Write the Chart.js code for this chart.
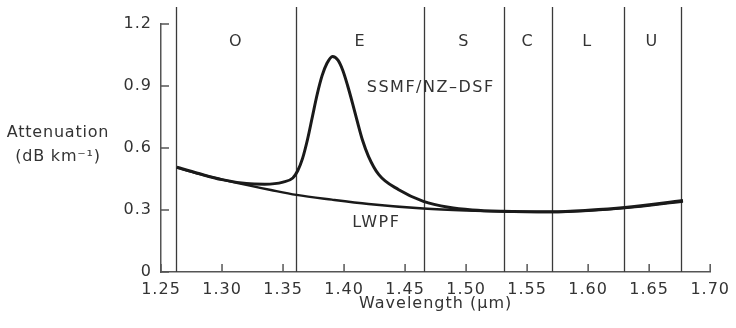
<!DOCTYPE html>
<html>
<head>
<meta charset="utf-8">
<script src="https://cdn.jsdelivr.net/npm/chart.js@4/dist/chart.umd.min.js"></script>
<style>
  html, body { margin: 0; padding: 0; background: #fff; }
  #wrap { width: 736px; height: 328px; position: relative; }
</style>
</head>
<body>
<div id="wrap"><canvas id="chart"></canvas></div>
<script>
// wavelength (um) / attenuation (dB/km)
const ssmfX = [1.263, 1.28, 1.30, 1.32, 1.335, 1.35, 1.358, 1.362, 1.366, 1.370, 1.374, 1.378, 1.382, 1.386, 1.3905, 1.395, 1.399, 1.403, 1.407, 1.411, 1.415, 1.420, 1.4285, 1.4448, 1.465, 1.4856, 1.505, 1.53, 1.57, 1.60, 1.63, 1.6777];
const ssmfY = [0.507, 0.478, 0.447, 0.428, 0.425, 0.435, 0.455, 0.49, 0.55, 0.64, 0.75, 0.86, 0.95, 1.01, 1.043, 1.025, 0.975, 0.90, 0.815, 0.725, 0.64, 0.56, 0.471, 0.398, 0.342, 0.313, 0.300, 0.294, 0.292, 0.299, 0.312, 0.346];
const lwpfX = [1.263, 1.28, 1.31, 1.34, 1.361, 1.39, 1.42, 1.465, 1.50, 1.53, 1.57, 1.60, 1.63, 1.6777];
const lwpfY = [0.505, 0.476, 0.434, 0.397, 0.373, 0.350, 0.329, 0.307, 0.297, 0.292, 0.290, 0.296, 0.309, 0.341];

const bandEdges = [1.262, 1.361, 1.4655, 1.531, 1.57, 1.629, 1.676];
const bandNames = ['O', 'E', 'S', 'C', 'L', 'U'];

const curveLabels = [
  { text: 'SSMF/NZ\u2013DSF', x: 1.471, y: 0.891 },
  { text: 'LWPF', x: 1.4265, y: 0.236 }
];

const FONT = '"DejaVu Sans", sans-serif';
const INK = '#333';

function toPoints(xs, ys) {
  return xs.map(function(x, i) { return { x: x, y: ys[i] }; });
}

const decor = {
  id: 'decor',
  beforeDraw: function(chart) {
    chart.ctx.letterSpacing = '1px';
  },
  beforeDatasetsDraw: function(chart) {
    const ctx = chart.ctx, xs = chart.scales.x, ys = chart.scales.y, area = chart.chartArea;
    ctx.save();
    ctx.strokeStyle = '#3a3a3a';
    ctx.lineWidth = 1.3;
    bandEdges.forEach(function(e) {
      const px = Math.round(xs.getPixelForValue(e)) + 0.5;
      ctx.beginPath();
      ctx.moveTo(px, area.top - 17);
      ctx.lineTo(px, area.bottom);
      ctx.stroke();
    });
    // inward tick marks
    ctx.strokeStyle = '#555';
    ctx.lineWidth = 1.5;
    ys.ticks.forEach(function(t) {
      const py = ys.getPixelForValue(t.value);
      ctx.beginPath();
      ctx.moveTo(area.left, py);
      ctx.lineTo(area.left + 8, py);
      ctx.stroke();
    });
    xs.ticks.forEach(function(t) {
      const px = xs.getPixelForValue(t.value);
      ctx.beginPath();
      ctx.moveTo(px, area.bottom);
      ctx.lineTo(px, area.bottom - 8);
      ctx.stroke();
    });
    ctx.restore();
  },
  afterDraw: function(chart) {
    const ctx = chart.ctx, xs = chart.scales.x, ys = chart.scales.y;
    ctx.save();
    ctx.letterSpacing = '1.5px';
    ctx.fillStyle = INK;
    ctx.font = '16px ' + FONT;
    ctx.textAlign = 'center';
    ctx.textBaseline = 'middle';
    bandNames.forEach(function(n, i) {
      const mid = (bandEdges[i] + bandEdges[i + 1]) / 2;
      ctx.fillText(n, xs.getPixelForValue(mid), ys.getPixelForValue(1.114));
    });
    curveLabels.forEach(function(l) {
      ctx.fillText(l.text, xs.getPixelForValue(l.x), ys.getPixelForValue(l.y));
    });
    // y axis title, horizontal, two lines
    ctx.letterSpacing = '0.8px';
    ctx.fillText('Attenuation', 58, 133);
    ctx.fillText('(dB km\u207B\u00B9)', 58, 157);
    ctx.restore();
  }
};

new Chart(document.getElementById('chart'), {
  type: 'line',
  data: {
    datasets: [
      {
        label: 'SSMF/NZ-DSF',
        data: toPoints(ssmfX, ssmfY),
        borderColor: '#1a1a1a',
        borderWidth: 3,
        pointRadius: 0,
        cubicInterpolationMode: 'monotone',
        fill: false
      },
      {
        label: 'LWPF',
        data: toPoints(lwpfX, lwpfY),
        borderColor: '#1a1a1a',
        borderWidth: 2.4,
        pointRadius: 0,
        cubicInterpolationMode: 'monotone',
        fill: false
      }
    ]
  },
  options: {
    responsive: true,
    maintainAspectRatio: false,
    animation: false,
    layout: { padding: { top: 24, right: 23, left: 0, bottom: 0 } },
    plugins: { legend: { display: false }, tooltip: { enabled: false } },
    scales: {
      x: {
        type: 'linear',
        min: 1.25,
        max: 1.70,
        grid: { display: false, drawTicks: false },
        border: { display: true, color: '#555', width: 1.5 },
        ticks: {
          stepSize: 0.05,
          padding: 8,
          maxRotation: 0,
          color: INK,
          font: { family: FONT, size: 16 },
          callback: function(v) { return v.toFixed(2); }
        },
        title: {
          display: true,
          text: 'Wavelength (\u03BCm)',
          color: INK,
          font: { family: FONT, size: 16 },
          padding: { top: 0, bottom: 15 }
        },
        afterFit: function(s) { s.height = 56; }
      },
      y: {
        min: 0,
        max: 1.2,
        grid: { display: false, drawTicks: false },
        border: { display: true, color: '#555', width: 1.5 },
        ticks: {
          stepSize: 0.3,
          padding: 9,
          color: INK,
          font: { family: FONT, size: 16 },
          callback: function(v) { return v === 0 ? '0' : v.toFixed(1); }
        },
        afterFit: function(s) { s.width = 161; }
      }
    }
  },
  plugins: [decor]
});
</script>
</body>
</html>
